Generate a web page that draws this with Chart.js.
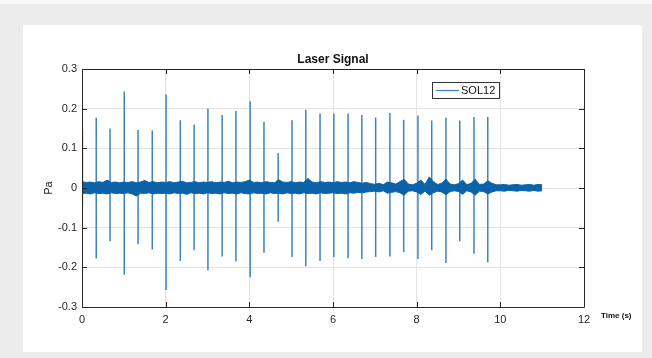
<!DOCTYPE html>
<html>
<head>
<meta charset="utf-8">
<script src="https://cdn.jsdelivr.net/npm/chart.js@4.4.0/dist/chart.umd.min.js"></script>
<style>
  html, body { margin: 0; padding: 0; background: #ececec; }
</style>
</head>
<body>
<canvas id="laserChart" width="652" height="358"></canvas>
<script>
// --- Data ---
const xTicks = [0, 2, 4, 6, 8, 10, 12];
const yTicks = [-0.3, -0.2, -0.1, 0, 0.1, 0.2, 0.3];

// laser pulses (s) and their peak / trough (Pa)
const spikeTimes = [0.01, 0.34, 0.67, 1.01, 1.34, 1.68, 2.01, 2.35, 2.68, 3.01, 3.35, 3.68, 4.02, 4.35, 4.69,
    5.02, 5.35, 5.69, 6.02, 6.36, 6.69, 7.02, 7.36, 7.69, 8.03, 8.36, 8.70, 9.03, 9.37, 9.70];
const spikeHigh = [0.147, 0.177, 0.150, 0.243, 0.146, 0.145, 0.236, 0.171, 0.160, 0.200, 0.184, 0.194, 0.219, 0.167, 0.088,
    0.171, 0.197, 0.188, 0.188, 0.188, 0.184, 0.178, 0.189, 0.172, 0.183, 0.170, 0.178, 0.170, 0.179, 0.179];
const spikeLow = [-0.045, -0.178, -0.134, -0.219, -0.142, -0.155, -0.257, -0.184, -0.157, -0.208, -0.173, -0.185, -0.225, -0.163, -0.085,
    -0.174, -0.197, -0.184, -0.174, -0.177, -0.179, -0.174, -0.173, -0.162, -0.179, -0.157, -0.189, -0.134, -0.166, -0.188];

// background noise envelope (s / Pa)
const noiseTimes = [0, 0.1, 0.2, 0.3, 0.4, 0.5, 0.6, 0.7, 0.8, 0.9,
    1.0, 1.1, 1.2, 1.3, 1.4, 1.5, 1.6, 1.7, 1.8, 1.9,
    2.0, 2.1, 2.2, 2.3, 2.4, 2.5, 2.6, 2.7, 2.8, 2.9,
    3.0, 3.1, 3.2, 3.3, 3.4, 3.5, 3.6, 3.7, 3.8, 3.9,
    4.0, 4.1, 4.2, 4.3, 4.4, 4.5, 4.6, 4.7, 4.8, 4.9,
    5.0, 5.1, 5.2, 5.3, 5.4, 5.5, 5.6, 5.7, 5.8, 5.9,
    6.0, 6.1, 6.2, 6.3, 6.4, 6.5, 6.6, 6.7, 6.8, 6.9,
    7.0, 7.1, 7.2, 7.3, 7.4, 7.5, 7.6, 7.7, 7.8, 7.9,
    8.0, 8.1, 8.2, 8.3, 8.4, 8.5, 8.6, 8.7, 8.8, 8.9,
    9.0, 9.1, 9.2, 9.3, 9.4, 9.5, 9.6, 9.7, 9.8, 9.9,
    10.0, 10.1, 10.2, 10.3, 10.4, 10.5, 10.6, 10.7, 10.8, 10.9, 11.0];
const noiseHigh = [0.016, 0.014, 0.015, 0.013, 0.016, 0.014, 0.020, 0.014, 0.015, 0.013,
    0.015, 0.014, 0.016, 0.013, 0.015, 0.019, 0.014, 0.016, 0.013, 0.015,
    0.014, 0.016, 0.013, 0.015, 0.017, 0.013, 0.014, 0.016, 0.013, 0.015,
    0.014, 0.016, 0.013, 0.015, 0.014, 0.017, 0.013, 0.015, 0.014, 0.016,
    0.020, 0.014, 0.015, 0.013, 0.016, 0.014, 0.013, 0.021, 0.015, 0.014,
    0.016, 0.013, 0.015, 0.014, 0.024, 0.015, 0.013, 0.016, 0.014, 0.015,
    0.013, 0.016, 0.014, 0.015, 0.013, 0.016, 0.014, 0.012, 0.014, 0.011,
    0.009, 0.012, 0.008, 0.015, 0.013, 0.010, 0.016, 0.022, 0.010, 0.008,
    0.012, 0.020, 0.009, 0.028, 0.016, 0.009, 0.012, 0.022, 0.010, 0.008,
    0.011, 0.020, 0.008, 0.012, 0.022, 0.009, 0.010, 0.018, 0.012, 0.008,
    0.008, 0.009, 0.007, 0.008, 0.009, 0.007, 0.008, 0.009, 0.007, 0.009, 0.008];
const noiseLow = [-0.014, -0.013, -0.015, -0.012, -0.014, -0.013, -0.015, -0.012, -0.014, -0.013,
    -0.014, -0.012, -0.015, -0.020, -0.013, -0.014, -0.012, -0.015, -0.013, -0.014,
    -0.013, -0.015, -0.012, -0.014, -0.013, -0.016, -0.012, -0.014, -0.013, -0.015,
    -0.012, -0.014, -0.013, -0.015, -0.012, -0.014, -0.013, -0.015, -0.012, -0.014,
    -0.015, -0.012, -0.014, -0.013, -0.015, -0.012, -0.014, -0.013, -0.015, -0.012,
    -0.014, -0.013, -0.015, -0.012, -0.014, -0.013, -0.015, -0.012, -0.014, -0.013,
    -0.012, -0.014, -0.013, -0.015, -0.012, -0.013, -0.011, -0.012, -0.010, -0.009,
    -0.008, -0.010, -0.007, -0.013, -0.011, -0.009, -0.012, -0.018, -0.008, -0.007,
    -0.010, -0.016, -0.008, -0.018, -0.012, -0.008, -0.010, -0.017, -0.009, -0.007,
    -0.009, -0.016, -0.007, -0.010, -0.018, -0.008, -0.009, -0.015, -0.010, -0.007,
    -0.007, -0.008, -0.006, -0.007, -0.008, -0.006, -0.007, -0.008, -0.006, -0.008, -0.007];

const seriesName = 'SOL12';
const FONT = "'Liberation Sans', Arial, Helvetica, sans-serif";
const INK = '#262626';
const LINE_BLUE = '#3a85c1';
const BAND_BLUE = '#0b62a9';

// --- Build points for the library ---
const spikePoints = [];
spikeTimes.forEach(function (t, i) {
    spikePoints.push({ x: t, y: spikeLow[i] }, { x: t, y: spikeHigh[i] }, { x: t, y: null });
});
const noiseTop = noiseTimes.map(function (t, i) { return { x: t, y: noiseHigh[i] }; });
const noiseBottom = noiseTimes.map(function (t, i) { return { x: t, y: noiseLow[i] }; });

// gray page with the white figure panel
const panelPlugin = {
    id: 'panel',
    beforeDraw: function (chart) {
        const c = chart.ctx;
        c.save();
        c.fillStyle = '#ececec';
        c.fillRect(0, 0, chart.width, chart.height);
        c.fillStyle = '#f7f7f7';
        c.fillRect(0, 0, chart.width, 4);
        c.fillStyle = '#ffffff';
        c.fillRect(23, 25, 619, 327);
        c.restore();
    }
};

// MATLAB style box, inner ticks, title, x label and legend
const framePlugin = {
    id: 'frame',
    afterDraw: function (chart) {
        const c = chart.ctx;
        const a = chart.chartArea;
        const xs = chart.scales.x, ys = chart.scales.y;
        const tl = 5;
        c.save();
        c.strokeStyle = INK;
        c.lineWidth = 1;
        c.beginPath();
        c.rect(Math.round(a.left) + 0.5, Math.round(a.top) + 0.5, Math.round(a.right - a.left), Math.round(a.bottom - a.top));
        xs.ticks.forEach(function (tk) {
            const px = Math.round(xs.getPixelForValue(tk.value)) + 0.5;
            c.moveTo(px, a.bottom); c.lineTo(px, a.bottom - tl);
            c.moveTo(px, a.top); c.lineTo(px, a.top + tl);
        });
        ys.ticks.forEach(function (tk) {
            const py = Math.round(ys.getPixelForValue(tk.value)) + 0.5;
            c.moveTo(a.left, py); c.lineTo(a.left + tl, py);
            c.moveTo(a.right, py); c.lineTo(a.right - tl, py);
        });
        c.stroke();

        // title
        c.fillStyle = '#111';
        c.font = 'bold 12px ' + FONT;
        c.textAlign = 'center';
        c.textBaseline = 'alphabetic';
        c.fillText('Laser Signal', (a.left + a.right) / 2, a.top - 6);

        // x axis label, to the right of the axis
        c.font = 'bold 8px ' + FONT;
        c.textAlign = 'left';
        c.textBaseline = 'middle';
        c.fillText('Time (s)', a.right + 17, a.bottom + 9);

        // legend
        const lx = 432, ly = 82, lw = 67, lh = 16;
        c.fillStyle = '#ffffff';
        c.fillRect(lx, ly, lw, lh);
        c.strokeStyle = '#333';
        c.strokeRect(lx + 0.5, ly + 0.5, lw, lh);
        c.strokeStyle = LINE_BLUE;
        c.lineWidth = 1.2;
        c.beginPath();
        c.moveTo(lx + 4, ly + lh / 2 + 0.5);
        c.lineTo(lx + 27, ly + lh / 2 + 0.5);
        c.stroke();
        c.fillStyle = '#111';
        c.font = '11px ' + FONT;
        c.textAlign = 'left';
        c.fillText(seriesName, lx + 29, ly + lh / 2 + 1);
        c.restore();
    }
};

new Chart(document.getElementById('laserChart'), {
    type: 'line',
    data: {
        datasets: [{
            label: 'noise top',
            data: noiseTop,
            borderColor: BAND_BLUE,
            borderWidth: 1,
            pointRadius: 0,
            fill: false
        }, {
            label: 'noise bottom',
            data: noiseBottom,
            borderColor: BAND_BLUE,
            backgroundColor: BAND_BLUE,
            borderWidth: 1,
            pointRadius: 0,
            fill: '-1'
        }, {
            label: seriesName,
            data: spikePoints,
            borderColor: LINE_BLUE,
            borderWidth: 1.5,
            pointRadius: 0,
            spanGaps: false,
            fill: false
        }]
    },
    options: {
        responsive: false,
        animation: false,
        layout: { padding: { left: 42, top: 69, right: 68, bottom: 21 } },
        plugins: {
            legend: { display: false },
            tooltip: { enabled: false },
            title: { display: false }
        },
        scales: {
            x: {
                type: 'linear',
                min: 0,
                max: 12,
                afterBuildTicks: function (scale) {
                    scale.ticks = xTicks.map(function (v) { return { value: v }; });
                },
                afterFit: function (scale) { scale.height = 30; },
                grid: { color: '#e3e3e3', drawTicks: false },
                border: { display: false },
                ticks: {
                    padding: 6,
                    color: INK,
                    font: { family: FONT, size: 11 },
                    maxRotation: 0,
                    callback: function (v) { return String(v); }
                }
            },
            y: {
                type: 'linear',
                min: -0.3,
                max: 0.3,
                afterBuildTicks: function (scale) {
                    scale.ticks = yTicks.map(function (v) { return { value: v }; });
                },
                afterFit: function (scale) { scale.width = 40; },
                grid: { color: '#e3e3e3', drawTicks: false },
                border: { display: false },
                title: {
                    display: true,
                    text: 'Pa',
                    color: INK,
                    padding: 0,
                    font: { family: FONT, size: 11 }
                },
                ticks: {
                    padding: 5,
                    color: INK,
                    font: { family: FONT, size: 11 },
                    callback: function (v) { return String(Number(v.toFixed(1)) || 0); }
                }
            }
        }
    },
    plugins: [panelPlugin, framePlugin]
});
</script>
</body>
</html>
